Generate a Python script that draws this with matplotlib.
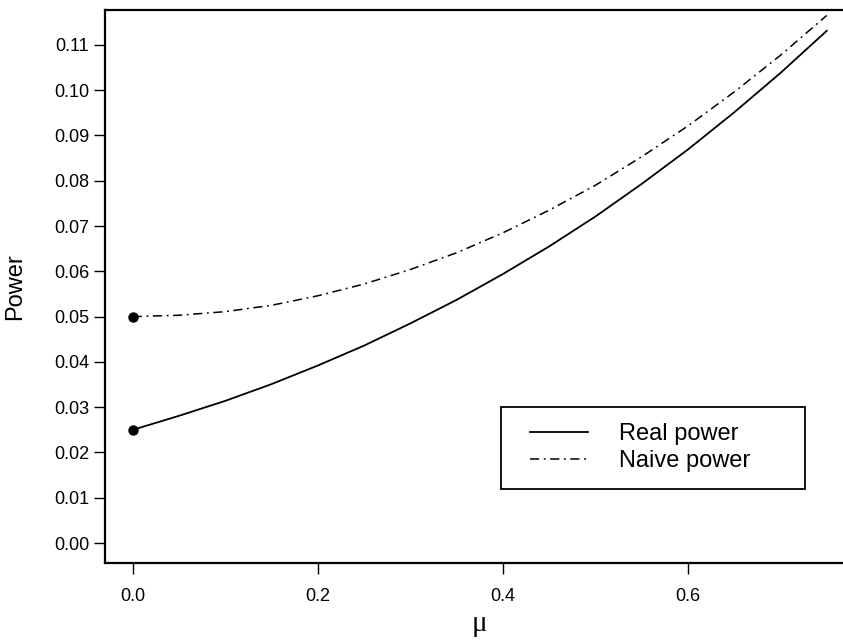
import matplotlib
matplotlib.use("Agg")
import matplotlib.pyplot as plt
from matplotlib.patches import Rectangle

plt.rcParams['font.family'] = ['Liberation Sans', 'DejaVu Sans']

# values
mu = [0.00, 0.05, 0.10, 0.15, 0.20, 0.25, 0.30, 0.35,
      0.40, 0.45, 0.50, 0.55, 0.60, 0.65, 0.70, 0.75]
real_power = [0.0250, 0.0281, 0.0314, 0.0351, 0.0392, 0.0436, 0.0485, 0.0537,
              0.0594, 0.0655, 0.0721, 0.0793, 0.0869, 0.0951, 0.1038, 0.1131]
naive_power = [0.0500, 0.0503, 0.0511, 0.0525, 0.0546, 0.0572, 0.0604, 0.0641,
               0.0685, 0.0735, 0.0790, 0.0853, 0.0921, 0.0996, 0.1077, 0.1165]
xticks = [0.0, 0.2, 0.4, 0.6]
yticks = [0.00, 0.01, 0.02, 0.03, 0.04, 0.05, 0.06, 0.07, 0.08, 0.09, 0.10, 0.11]

W, H = 843, 640
fig = plt.figure(figsize=(W / 100, H / 100), dpi=100)
# axes runs a little past the right edge of the picture, as in the scan
ax = fig.add_axes([105 / W, (H - 563) / H, (854.5 - 105) / W, (563 - 10) / H])

ax.plot(mu, real_power, color='black', lw=1.3, marker='o', markevery=[0], ms=6.5,
        label='Real power')
ax.plot(mu, naive_power, color='black', lw=1.1, dashes=(6, 3, 1.2, 3),
        marker='o', markevery=[0], ms=6.5, label='Naive power')

ax.set_xlim(-0.03, 0.78)
ax.set_ylim(-0.0044, 0.1177)
ax.set_xticks(xticks)
ax.set_xticklabels([f'{v:.1f}' for v in xticks])
ax.set_yticks(yticks)
ax.set_yticklabels([f'{v:.2f}' for v in yticks])
ax.tick_params(direction='out', length=8, width=1, labelsize=13, color='black')
ax.tick_params(axis='x', pad=10)
ax.tick_params(axis='y', pad=3.5)
for s in ['left', 'bottom', 'top']:
    ax.spines[s].set_linewidth(1.6)
ax.spines['right'].set_visible(False)

ax.set_ylabel('Power', fontsize=17, labelpad=20)
ax.set_xlabel('\u03bc', fontsize=21, family=['Liberation Serif', 'DejaVu Serif'],
              labelpad=4)

# legend box
fig.patches.append(Rectangle((500.7 / W, (H - 489) / H), (805 - 500.7) / W, (489 - 407) / H,
                             transform=fig.transFigure, fill=False, ec='black', lw=1.3))
leg = ax.legend(loc='upper left', bbox_to_anchor=(530 / W, (H - 423) / H),
                bbox_transform=fig.transFigure, frameon=False, fontsize=17,
                borderpad=0, borderaxespad=0, handlelength=2.45, handletextpad=1.3,
                labelspacing=0.22)
for h in leg.legend_handles:
    h.set_marker('')

fig.savefig('out.png', dpi=100)
